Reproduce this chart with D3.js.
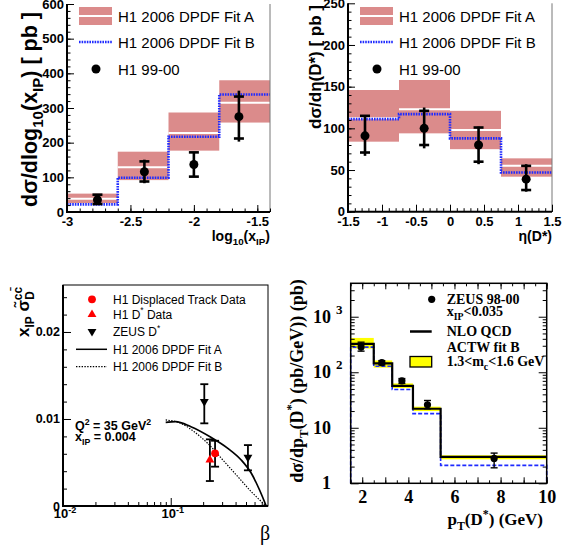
<!DOCTYPE html>
<html>
<head>
<meta charset="utf-8">
<script src="https://cdn.jsdelivr.net/npm/d3@7"></script>
<style>
  body { margin: 0; background: #fff; }
  svg { display: block; }
  .sans { font-family: "Liberation Sans", Arial, Helvetica, sans-serif; }
  .serif { font-family: "Liberation Serif", "Times New Roman", serif; }
</style>
</head>
<body>
<svg id="chart" width="571" height="551"></svg>
<script>
// ---- top left: d sigma / d log10(xIP)
const xipEdges = [-3, -2.6, -2.2, -1.8, -1.4];
const xipFitA = [38, 129, 228, 315];
const xipFitALow = [26, 92, 177, 258];
const xipFitAHigh = [53, 174, 287, 380];
const xipFitB = [22, 99, 217, 339];
const xipX = [-2.76, -2.39, -2.0, -1.645];
const xipY = [35, 116, 137, 275];
const xipStatLow = [23, 88, 102, 212];
const xipStatHigh = [50, 146, 172, 333];
const xipTotLow = [23, 83, 102, 203];
const xipTotHigh = [50, 151, 172, 350];
const xipXTicks = [-3, -2.5, -2, -1.5];
const xipYTicks = [0, 100, 200, 300, 400, 500, 600];

// ---- top right: d sigma / d eta(D*)
const etaEdges = [-1.5, -0.75, 0, 0.75, 1.5];
const etaFitA = [112, 123, 98, 55];
const etaFitALow = [84, 94, 75, 42];
const etaFitAHigh = [146, 158, 121, 64];
const etaFitB = [111, 117, 88, 47];
const etaX = [-1.25, -0.38, 0.42, 1.12];
const etaY = [91, 100, 80, 39];
const etaStatLow = [71, 80, 60, 26];
const etaStatHigh = [115, 121, 101, 55];
const etaTotLow = [67, 76, 57, 24];
const etaTotHigh = [115, 125, 102, 57];
const etaXTicks = [-1.5, -1, -0.5, 0, 0.5, 1, 1.5];
const etaYTicks = [0, 50, 100, 150, 200, 250];

// ---- bottom left: reduced cross section vs beta
const fitABeta = [0.0898, 0.111, 0.154, 0.236, 0.339, 0.451, 0.56, 0.668, 0.77];
const fitAVal = [0.00962, 0.00969, 0.00911, 0.0079, 0.00663, 0.00529, 0.00376, 0.00184, 0];
const fitBBeta = [0.0898, 0.124, 0.165, 0.22, 0.315, 0.42, 0.56, 0.77];
const fitBVal = [0.00989, 0.0095, 0.00854, 0.00721, 0.00509, 0.00337, 0.00164, 0];
const dispBeta = [0.258];
const dispVal = [0.00605];
const dispLow = [0.00452];
const dispHigh = [0.0075];
const h1DBeta = [0.231];
const h1DVal = [0.0053];
const h1DLow = [0.00287];
const h1DHigh = [0.00766];
const zeusBeta = [0.205, 0.521];
const zeusVal = [0.012, 0.0056];
const zeusLow = [0.0095, 0.0041];
const zeusHigh = [0.014, 0.007];
const betaYTicks = [0, 0.01, 0.02];

// ---- bottom right: d sigma / d pT(D*)
const ptEdges = [1.5, 2.5, 3.3, 4.2, 5.4, 10];
const ptNlo = [325, 145, 57, 22, 3.0];
const ptBandLow = [268, 121, 52, 20, 2.7];
const ptBandHigh = [415, 163, 63, 24, 3.2];
const ptFitB = [283, 128, 49, 18, 2.1];
const ptX = [1.95, 2.85, 3.72, 4.83, 7.72];
const ptY = [286, 149, 70, 26, 2.8];
const ptLow = [240, 136, 63, 22, 1.9];
const ptHigh = [348, 162, 77, 31, 3.5];
const ptXTicks = [2, 4, 6, 8, 10];
const ptYTicks = [1, 10, 100, 1000];

const pink = '#db8b8b';
const blue = '#1f2bff';
const svg = d3.select('#chart');

// text with sub/superscripts, parts = [[text, 'sub'|'sup'|null, dx], ...]
function rich(sel, parts, fs) {
  let shift = 0;
  parts.forEach(function(p) {
    const target = p[1] === 'sub' ? fs * 0.3 : p[1] === 'sup' ? -fs * 0.42 : 0;
    const t = sel.append('tspan').attr('dy', target - shift)
      .attr('font-size', p[1] ? fs * 0.7 : fs).text(p[0]);
    if (p[2]) t.attr('dx', p[2]);
    shift = target;
  });
  return sel;
}

function tickMarks(g, axis, scale, values, size, transform) {
  g.append('g').attr('transform', transform)
    .call(axis(scale).tickValues(values).tickSize(size).tickSizeOuter(0).tickFormat(''))
    .call(function(a) { a.select('.domain').remove(); })
    .selectAll('line').attr('stroke', '#000');
}

function errBars(g, x, y, xs, lo, hi, capLo, capHi, cap, w) {
  xs.forEach(function(xv, i) {
    g.append('line').attr('x1', x(xv)).attr('x2', x(xv))
      .attr('y1', y(lo[i])).attr('y2', y(hi[i]))
      .attr('stroke', '#000').attr('stroke-width', w);
    [capLo[i], capHi[i]].forEach(function(v) {
      g.append('line').attr('x1', x(xv) - cap).attr('x2', x(xv) + cap)
        .attr('y1', y(v)).attr('y2', y(v))
        .attr('stroke', '#000').attr('stroke-width', w);
    });
  });
}

function topPanel(o) {
  const g = svg.append('g').attr('class', 'sans');
  const x = d3.scaleLinear().domain([o.edges[0], o.edges[o.edges.length - 1]]).range([o.x0, o.x1]);
  const y = d3.scaleLinear().domain([o.yTicks[0], o.yTicks[o.yTicks.length - 1]]).range([o.y1, o.y0]);
  const n = o.fitA.length;
  const bins = d3.range(n);

  g.selectAll('rect.band').data(bins).join('rect').attr('class', 'band')
    .attr('x', i => x(o.edges[i])).attr('width', i => x(o.edges[i + 1]) - x(o.edges[i]))
    .attr('y', i => y(o.aHigh[i])).attr('height', i => y(o.aLow[i]) - y(o.aHigh[i]))
    .attr('fill', pink);
  g.selectAll('line.central').data(bins).join('line').attr('class', 'central')
    .attr('x1', i => x(o.edges[i])).attr('x2', i => x(o.edges[i + 1]))
    .attr('y1', i => y(o.fitA[i])).attr('y2', i => y(o.fitA[i]))
    .attr('stroke', '#fff').attr('stroke-width', 2);

  const pts = o.edges.map((e, i) => [e, o.fitB[Math.min(i, n - 1)]]);
  g.append('path')
    .attr('d', d3.line().x(d => x(d[0])).y(d => y(d[1])).curve(d3.curveStepAfter)(pts))
    .attr('fill', 'none').attr('stroke', blue).attr('stroke-width', 2.6)
    .attr('stroke-dasharray', '1.6 1');

  errBars(g, x, y, o.px, o.totLow, o.totHigh, o.statLow, o.statHigh, 5, 2.6);
  g.selectAll('circle.pt').data(o.px).join('circle').attr('class', 'pt')
    .attr('cx', d => x(d)).attr('cy', (d, i) => y(o.py[i])).attr('r', 4.5).attr('fill', '#000');

  // frame
  g.append('line').attr('x1', o.x1).attr('x2', o.x1).attr('y1', o.y0).attr('y2', o.y1)
    .attr('stroke', '#777').attr('stroke-width', 1);
  g.append('line').attr('x1', o.x0).attr('x2', o.x0).attr('y1', o.y0).attr('y2', o.y1 + 1)
    .attr('stroke', '#000').attr('stroke-width', 2);
  g.append('line').attr('x1', o.x0 - 1).attr('x2', o.x1).attr('y1', o.y1).attr('y2', o.y1)
    .attr('stroke', '#000').attr('stroke-width', 2);

  tickMarks(g, d3.axisLeft, y, o.yTicks, -7, `translate(${o.x0},0)`);
  tickMarks(g, d3.axisLeft, y, d3.range(o.yTicks[0], o.yTicks[o.yTicks.length - 1], o.yMinor), -3.5, `translate(${o.x0},0)`);
  tickMarks(g, d3.axisBottom, x, o.xTicks, -7, `translate(0,${o.y1})`);
  tickMarks(g, d3.axisBottom, x, d3.range(0, Math.round((o.edges[o.edges.length - 1] - o.edges[0]) / o.xMinor) + 1).map(k => o.edges[0] + k * o.xMinor), -3.5, `translate(0,${o.y1})`);

  g.append('g').attr('transform', `translate(${o.x0},0)`)
    .call(d3.axisLeft(y).tickValues(o.yTicks).tickSize(0).tickPadding(3).tickFormat(d => String(d)))
    .call(a => a.select('.domain').remove())
    .attr('font-family', null).attr('font-size', 13).attr('font-weight', 'bold');
  g.append('g').attr('transform', `translate(0,${o.y1})`)
    .call(d3.axisBottom(x).tickValues(o.xTicks).tickSize(0).tickPadding(5).tickFormat(d => String(d)))
    .call(a => a.select('.domain').remove())
    .attr('font-family', null).attr('font-size', 13).attr('font-weight', 'bold');

  // axis titles
  rich(g.append('text').attr('transform', `translate(${o.ylx},${o.yly}) rotate(-90)`)
    .attr('text-anchor', 'end').attr('font-weight', 'bold'), o.ylabel, o.ylfs);
  rich(g.append('text').attr('x', o.x1).attr('y', 241)
    .attr('text-anchor', 'end').attr('font-weight', 'bold'), o.xlabel, 14);

  // legend
  const lx = o.lx;
  g.append('rect').attr('x', lx).attr('y', 7).attr('width', 33).attr('height', 18).attr('fill', pink);
  g.append('line').attr('x1', lx).attr('x2', lx + 33).attr('y1', 16).attr('y2', 16)
    .attr('stroke', '#fff').attr('stroke-width', 2);
  g.append('line').attr('x1', lx).attr('x2', lx + 33).attr('y1', 42).attr('y2', 42)
    .attr('stroke', blue).attr('stroke-width', 2.6).attr('stroke-dasharray', '1.6 1');
  g.append('circle').attr('cx', lx + 17).attr('cy', 69).attr('r', 4.5).attr('fill', '#000');
  [['H1 2006 DPDF Fit A', 22], ['H1 2006 DPDF Fit B', 48], ['H1 99-00', 75]].forEach(function(d) {
    g.append('text').attr('x', lx + 39).attr('y', d[1]).attr('font-size', 15).text(d[0]);
  });
}

topPanel({
  edges: xipEdges, fitA: xipFitA, aLow: xipFitALow, aHigh: xipFitAHigh, fitB: xipFitB,
  px: xipX, py: xipY, statLow: xipStatLow, statHigh: xipStatHigh, totLow: xipTotLow, totHigh: xipTotHigh,
  xTicks: xipXTicks, yTicks: xipYTicks, yMinor: 20, xMinor: 0.1,
  x0: 67, x1: 270, y0: 4, y1: 212, lx: 79,
  ylx: 37, yly: 12, ylfs: 21.5,
  ylabel: [['dσ/dlog'], ['10', 'sub'], ['(x'], ['IP', 'sub'], [') [ pb ]']],
  xlabel: [['log'], ['10', 'sub'], ['(x'], ['IP', 'sub'], [')']]
});

topPanel({
  edges: etaEdges, fitA: etaFitA, aLow: etaFitALow, aHigh: etaFitAHigh, fitB: etaFitB,
  px: etaX, py: etaY, statLow: etaStatLow, statHigh: etaStatHigh, totLow: etaTotLow, totHigh: etaTotHigh,
  xTicks: etaXTicks, yTicks: etaYTicks, yMinor: 10, xMinor: 0.1,
  x0: 348, x1: 552, y0: 3.3, y1: 211.7, lx: 360,
  ylx: 321, yly: 5, ylfs: 17,
  ylabel: [['dσ/dη(D*) [ pb ]']],
  xlabel: [['η(D*)']]
});

// ---- bottom left panel
(function() {
  const g = svg.append('g').attr('class', 'sans');
  const x = d3.scaleLog().domain([0.01, 0.8]).range([63, 268]);
  const y = d3.scaleLinear().domain([0, 0.0254]).range([506, 285]);
  const line = d3.line().x(d => x(d[0])).y(d => y(d[1])).curve(d3.curveMonotoneX);

  g.append('path').attr('d', line(d3.zip(fitABeta, fitAVal)))
    .attr('fill', 'none').attr('stroke', '#000').attr('stroke-width', 1.7);
  g.append('path').attr('d', line(d3.zip(fitBBeta, fitBVal)))
    .attr('fill', 'none').attr('stroke', '#000').attr('stroke-width', 1.2).attr('stroke-dasharray', '1.4 1.4');

  errBars(g, x, y, h1DBeta, h1DLow, h1DHigh, h1DLow, h1DHigh, 4, 1.8);
  errBars(g, x, y, dispBeta, dispLow, dispHigh, dispLow, dispHigh, 4, 1.8);
  errBars(g, x, y, zeusBeta, zeusLow, zeusHigh, zeusLow, zeusHigh, 4, 1.8);

  const tri = d3.symbol().type(d3.symbolTriangle).size(34);
  g.selectAll('path.h1d').data(h1DBeta).join('path').attr('class', 'h1d')
    .attr('transform', (d, i) => `translate(${x(d)},${y(h1DVal[i])})`).attr('d', tri()).attr('fill', '#f00');
  g.selectAll('path.zeus').data(zeusBeta).join('path').attr('class', 'zeus')
    .attr('transform', (d, i) => `translate(${x(d)},${y(zeusVal[i])}) rotate(180)`).attr('d', tri()).attr('fill', '#000');
  g.selectAll('circle.disp').data(dispBeta).join('circle').attr('class', 'disp')
    .attr('cx', d => x(d)).attr('cy', (d, i) => y(dispVal[i])).attr('r', 3.9).attr('fill', '#f00');

  // frame
  g.append('rect').attr('x', 63).attr('y', 285).attr('width', 205).attr('height', 221)
    .attr('fill', 'none').attr('stroke', '#000').attr('stroke-width', 1);
  g.append('line').attr('x1', 63).attr('x2', 63).attr('y1', 285).attr('y2', 507).attr('stroke', '#000').attr('stroke-width', 2);
  g.append('line').attr('x1', 62).attr('x2', 268).attr('y1', 506).attr('y2', 506).attr('stroke', '#000').attr('stroke-width', 2);

  tickMarks(g, d3.axisLeft, y, betaYTicks, -8, 'translate(63,0)');
  tickMarks(g, d3.axisLeft, y, d3.range(0, 0.0241, 0.002), -4, 'translate(63,0)');
  const minorBeta = [];
  [0.01, 0.1].forEach(function(dec) { for (let k = 2; k <= 9; k++) if (k * dec < 0.8) minorBeta.push(k * dec); });
  tickMarks(g, d3.axisBottom, x, [0.01, 0.1], -8, 'translate(0,506)');
  tickMarks(g, d3.axisBottom, x, minorBeta, -4, 'translate(0,506)');

  g.append('g').attr('transform', 'translate(63,0)')
    .call(d3.axisLeft(y).tickValues(betaYTicks).tickSize(0).tickPadding(3).tickFormat(d => String(d)))
    .call(a => a.select('.domain').remove())
    .attr('font-family', null).attr('font-size', 12.5).attr('font-weight', 'bold');
  [[0.01, '-2'], [0.1, '-1']].forEach(function(d) {
    rich(g.append('text').attr('x', x(d[0]) + 2).attr('y', 518).attr('text-anchor', 'middle')
      .attr('font-weight', 'bold'), [['10'], [d[1], 'sup']], 13);
  });

  // titles
  rich(g.append('text').attr('transform', 'translate(29,287) rotate(-90)')
    .attr('text-anchor', 'end').attr('font-weight', 'bold'),
    [['x'], ['IP', 'sub'], [' σ\u0303'], ['D', 'sub'], ['cc\u0304', 'sup', -9]], 17);
  g.append('text').attr('x', 265).attr('y', 540).attr('text-anchor', 'middle')
    .attr('font-size', 20).style('font-family', '"Liberation Serif", serif').text('β');

  // legend
  g.append('circle').attr('cx', 92).attr('cy', 299.3).attr('r', 3.9).attr('fill', '#f00');
  g.append('path').attr('transform', 'translate(92,314.5)').attr('d', tri()).attr('fill', '#f00');
  g.append('path').attr('transform', 'translate(92,331.5) rotate(180)').attr('d', tri()).attr('fill', '#000');
  g.append('line').attr('x1', 76).attr('x2', 107).attr('y1', 349.3).attr('y2', 349.3)
    .attr('stroke', '#000').attr('stroke-width', 1.5);
  g.append('line').attr('x1', 76).attr('x2', 107).attr('y1', 366.7).attr('y2', 366.7)
    .attr('stroke', '#000').attr('stroke-width', 1.2).attr('stroke-dasharray', '1.4 1.4');
  const legText = [
    [[['H1 Displaced Track Data']], 303.5],
    [[['H1 D'], ['*', 'sup'], [' Data']], 318.5],
    [[['ZEUS D'], ['*', 'sup']], 336],
    [[['H1 2006 DPDF Fit A']], 353.5],
    [[['H1 2006 DPDF Fit B']], 371]
  ];
  legText.forEach(function(d) {
    rich(g.append('text').attr('x', 113).attr('y', d[1]), d[0], 12);
  });
  rich(g.append('text').attr('x', 75).attr('y', 430).attr('font-weight', 'bold'),
    [['Q'], ['2', 'sup'], [' = 35 GeV'], ['2', 'sup']], 12.5);
  rich(g.append('text').attr('x', 75).attr('y', 441).attr('font-weight', 'bold'),
    [['x'], ['IP', 'sub'], [' = 0.004']], 12.5);
})();

// ---- bottom right panel
(function() {
  const g = svg.append('g').attr('class', 'serif');
  const x = d3.scaleLinear().domain([1.5, 10]).range([350.7, 546.7]);
  const y = d3.scaleLog().domain([1, 4000]).range([483.3, 283.3]);
  const n = ptNlo.length;
  const bins = d3.range(n);

  g.selectAll('rect.band').data(bins).join('rect').attr('class', 'band')
    .attr('x', i => x(ptEdges[i])).attr('width', i => x(ptEdges[i + 1]) - x(ptEdges[i]))
    .attr('y', i => y(ptBandHigh[i])).attr('height', i => y(ptBandLow[i]) - y(ptBandHigh[i]))
    .attr('fill', '#ffff00');

  const step = d3.line().x(d => x(d[0])).y(d => y(d[1])).curve(d3.curveStepAfter);
  const bPts = [[ptEdges[0], 1]].concat(ptEdges.map((e, i) => [e, ptFitB[Math.min(i, n - 1)]]), [[ptEdges[n], 1]]);
  g.append('path').attr('d', step(bPts)).attr('fill', 'none')
    .attr('stroke', blue).attr('stroke-width', 1.6).attr('stroke-dasharray', '4 2');
  const nPts = ptEdges.map((e, i) => [e, ptNlo[Math.min(i, n - 1)]]);
  g.append('path').attr('d', step(nPts)).attr('fill', 'none')
    .attr('stroke', '#000').attr('stroke-width', 2.2);

  errBars(g, x, y, ptX, ptLow, ptHigh, ptLow, ptHigh, 3.5, 1.4);
  g.selectAll('circle.pt').data(ptX).join('circle').attr('class', 'pt')
    .attr('cx', d => x(d)).attr('cy', (d, i) => y(ptY[i])).attr('r', 3.6).attr('fill', '#000');

  g.append('rect').attr('x', 350.7).attr('y', 283.3).attr('width', 196).attr('height', 200)
    .attr('fill', 'none').attr('stroke', '#000').attr('stroke-width', 1.5);

  const yMinor = [];
  [1, 10, 100, 1000].forEach(function(dec) { for (let k = 2; k <= 9; k++) if (k * dec < 4000) yMinor.push(k * dec); });
  const xMinor = d3.range(1.5, 10.01, 0.5);
  tickMarks(g, d3.axisLeft, y, ptYTicks, -8, 'translate(350.7,0)');
  tickMarks(g, d3.axisLeft, y, yMinor, -4, 'translate(350.7,0)');
  tickMarks(g, d3.axisRight, y, ptYTicks, -8, 'translate(546.7,0)');
  tickMarks(g, d3.axisRight, y, yMinor, -4, 'translate(546.7,0)');
  tickMarks(g, d3.axisBottom, x, d3.range(2, 10.01, 1), -6, 'translate(0,483.3)');
  tickMarks(g, d3.axisBottom, x, xMinor, -3, 'translate(0,483.3)');
  tickMarks(g, d3.axisTop, x, d3.range(2, 10.01, 1), -6, 'translate(0,283.3)');
  tickMarks(g, d3.axisTop, x, xMinor, -3, 'translate(0,283.3)');

  g.append('g').attr('transform', 'translate(0,483.3)')
    .call(d3.axisBottom(x).tickValues(ptXTicks).tickSize(0).tickPadding(7).tickFormat(d => String(d)))
    .call(a => a.select('.domain').remove())
    .attr('font-family', null).attr('font-size', 18).attr('font-weight', 'bold');
  ptYTicks.forEach(function(v) {
    const e = Math.round(Math.log10(v));
    g.append('text').attr('x', 331).attr('y', y(v) + 6).attr('text-anchor', 'end')
      .attr('font-size', 18).attr('font-weight', 'bold').text(e === 0 ? '1' : '10');
    if (e > 1) {
      g.append('text').attr('x', 336).attr('y', y(v) - 3).attr('font-size', 13)
        .attr('font-weight', 'bold').text(String(e));
    }
  });

  rich(g.append('text').attr('transform', 'translate(303,381) rotate(-90)')
    .attr('text-anchor', 'middle').attr('font-weight', 'bold'),
    [['dσ/dp'], ['T', 'sub'], ['(D'], ['*', 'sup'], [') (pb/GeV)) (pb)']], 18);
  rich(g.append('text').attr('x', 543).attr('y', 525).attr('text-anchor', 'end').attr('font-weight', 'bold'),
    [['p'], ['T', 'sub'], ['(D'], ['*', 'sup'], [') (GeV)']], 17);

  // legend
  g.append('circle').attr('cx', 431.7).attr('cy', 299.3).attr('r', 3.6).attr('fill', '#000');
  g.append('line').attr('x1', 410).attr('x2', 431.7).attr('y1', 331.5).attr('y2', 331.5)
    .attr('stroke', '#000').attr('stroke-width', 2.5);
  g.append('rect').attr('x', 410).attr('y', 356.5).attr('width', 21.7).attr('height', 10.5)
    .attr('fill', '#ffff00').attr('stroke', '#000').attr('stroke-width', 1.3);
  const leg = [
    [[['ZEUS 98-00']], 304],
    [[['x'], ['IP', 'sub'], ['<0.035']], 316],
    [[['NLO QCD']], 335.5],
    [[['ACTW fit B']], 351.5],
    [[['1.3<m'], ['c', 'sub'], ['<1.6 GeV']], 365.5]
  ];
  leg.forEach(function(d) {
    rich(g.append('text').attr('x', 446.7).attr('y', d[1]).attr('font-weight', 'bold'), d[0], 14);
  });
})();
</script>
</body>
</html>
